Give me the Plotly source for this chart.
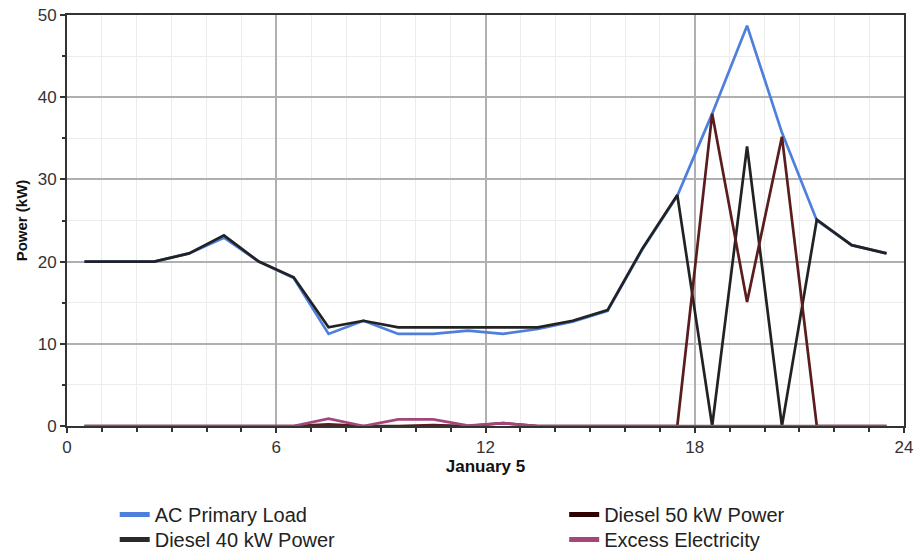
import plotly.graph_objects as go

# ---- data ----
hours = [0.5, 1.5, 2.5, 3.5, 4.5, 5.5, 6.5, 7.5, 8.5, 9.5, 10.5, 11.5,
         12.5, 13.5, 14.5, 15.5, 16.5, 17.5, 18.5, 19.5, 20.5, 21.5, 22.5, 23.5]
ac_primary_load = [20, 20, 20, 21, 22.9, 20, 18, 11.2, 12.8, 11.2, 11.2, 11.6,
                   11.2, 11.8, 12.7, 14, 21.5, 28, 38, 48.7, 35.7, 25, 22, 21]
diesel_40_power = [20, 20, 20, 21, 23.2, 20, 18.1, 12, 12.8, 12, 12, 12,
                   12, 12, 12.8, 14.1, 21.6, 28.1, 0, 34, 0, 25.1, 22, 21]
diesel_50_power = [0, 0, 0, 0, 0, 0, 0, 0.2, 0, 0, 0.1, 0,
                   0.35, 0, 0, 0, 0, 0, 38, 15.1, 35.2, 0, 0, 0]
excess_electricity = [0, 0, 0, 0, 0, 0, 0, 0.9, 0, 0.8, 0.8, 0.05,
                      0.35, 0, 0, 0, 0, 0, 0, 0, 0, 0, 0, 0]

x_tick_vals = [0, 6, 12, 18, 24]
x_tick_text = ["0", "6", "12", "18", "24"]
y_tick_vals = [0, 10, 20, 30, 40, 50]
x_title = "January 5"
y_title = "Power (kW)"

# name, values, line colour, legend swatch colour, legend id
series = [
    ("AC Primary Load", ac_primary_load, "#4f7fdc", "#4f7fdc", "legend"),
    ("Diesel 40 kW Power", diesel_40_power, "#222222", "#2a2a2a", "legend2"),
    ("Diesel 50 kW Power", diesel_50_power, "#5a1c1c", "#2e0000", "legend3"),
    ("Excess Electricity", excess_electricity, "#a3477a", "#a3477a", "legend4"),
]

FONT = "Liberation Sans, Arial, sans-serif"

fig = go.Figure()
for name, vals, col, _, _ in series:
    fig.add_trace(go.Scatter(x=hours, y=vals, mode="lines", name=name,
                             line=dict(color=col, width=2.7),
                             showlegend=False, hoverinfo="skip"))
# legend-only entries (thicker swatches like the reference)
for name, _, _, lcol, lg in series:
    fig.add_trace(go.Scatter(x=[None], y=[None], mode="lines", name=name,
                             line=dict(color=lcol, width=5),
                             legend=lg, showlegend=True))

leg_common = dict(yanchor="top", xanchor="left", orientation="v",
                  itemwidth=30, tracegroupgap=0,
                  font=dict(family=FONT, size=20, color="#222222"),
                  bgcolor="rgba(0,0,0,0)")
row1, row2 = -0.168, -0.2288
col1, col2 = 0.057, 0.594
fig.update_layout(
    width=914, height=552,
    margin=dict(l=67, r=10, t=15, b=126, autoexpand=False),
    paper_bgcolor="white", plot_bgcolor="white",
    font=dict(family=FONT, color="#333333", size=17),
    legend=dict(x=col1, y=row1, **leg_common),
    legend2=dict(x=col1, y=row2, **leg_common),
    legend3=dict(x=col2, y=row1, **leg_common),
    legend4=dict(x=col2, y=row2, **leg_common),
)

fig.update_xaxes(
    range=[0, 24], tickvals=x_tick_vals, ticktext=x_tick_text,
    ticks="outside", ticklen=5, tickwidth=1.5, tickcolor="#333",
    showline=True, linecolor="#333", linewidth=2, mirror=True,
    showgrid=True, gridcolor="#b0b0b0", gridwidth=1.6, zeroline=False,
    minor=dict(dtick=1, ticks="outside", ticklen=4, tickcolor="#333",
               showgrid=True, gridcolor="#ececec", gridwidth=1),
    title=dict(text="<b>" + x_title + "</b>", standoff=0,
               font=dict(family=FONT, size=17, color="#111")),
    tickfont=dict(family=FONT, size=17, color="#333"),
)
fig.update_yaxes(
    range=[0, 50], tickvals=y_tick_vals,
    ticks="outside", ticklen=5, tickwidth=1.5, tickcolor="#333",
    showline=True, linecolor="#333", linewidth=2, mirror=True,
    showgrid=True, gridcolor="#b0b0b0", gridwidth=1.6, zeroline=False,
    minor=dict(dtick=5, ticks="outside", ticklen=3, tickcolor="#333",
               showgrid=True, gridcolor="#ececec", gridwidth=1),
    title=dict(text="<b>" + y_title + "</b>", standoff=6,
               font=dict(family=FONT, size=15, color="#111")),
    tickfont=dict(family=FONT, size=17, color="#333"),
)

fig.write_html("out.html")
